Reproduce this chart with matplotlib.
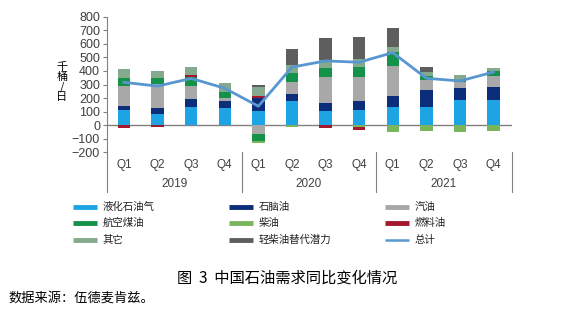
import numpy as np
import matplotlib
matplotlib.use("Agg")
import matplotlib.pyplot as plt
from matplotlib.lines import Line2D

plt.rcParams['font.family'] = ['Liberation Sans', 'Noto Sans CJK SC', 'DejaVu Sans']

# quarters and years
quarters = ['Q1', 'Q2', 'Q3', 'Q4'] * 3
years = ['2019', '2020', '2021']

# year-on-year change by product, thousand barrels per day
lpg      = [113, 83, 137, 130, 108, 179, 101, 113, 132, 132, 186, 186]
naphtha  = [29, 42, 54, 52, 91, 49, 61, 64, 84, 128, 88, 99]
gasoline = [148, 179, 99, 22, -65, 91, 191, 181, 221, 70, 47, 75]
jet      = [56, 42, 63, 41, -48, 64, 67, 69, 100, 30, 8, 36]
diesel   = [0, 0, 0, 0, -17, -15, 0, -10, -47, -42, -49, -44]
fuel_oil = [-20, -10, 15, 0, 17, 0, -20, -29, 0, 0, 0, 0]
other    = [66, 56, 59, 64, 69, 61, 61, 59, 40, 35, 42, 25]
lds      = [0, 0, 0, 0, 12, 118, 159, 162, 137, 32, 0, 0]
total    = [316, 288, 345, 272, 140, 428, 474, 464, 535, 346, 326, 392]

series = [
    ('液化石油气', lpg, '#1ea3e4'),
    ('石脑油', naphtha, '#0c2d7a'),
    ('汽油', gasoline, '#a8a8a8'),
    ('航空煤油', jet, '#14924a'),
    ('柴油', diesel, '#7ab55c'),
    ('燃料油', fuel_oil, '#a3172f'),
    ('其它', other, '#84a98c'),
    ('轻柴油替代潜力', lds, '#5e5e5e'),
]
line_color = '#5896d0'

fig = plt.figure(figsize=(5.74, 3.24), dpi=100)
ax = fig.add_axes([107 / 574, 1 - 152.3 / 324, (512 - 107) / 574, (152.3 - 16.7) / 324])

x = np.arange(len(total))
pos_bottom = np.zeros(len(x))
neg_bottom = np.zeros(len(x))
for name, vals, color in series:
    v = np.array(vals, dtype=float)
    pos = np.where(v > 0, v, 0)
    neg = np.where(v < 0, v, 0)
    ax.bar(x, pos, 0.37, bottom=pos_bottom, color=color, zorder=2)
    ax.bar(x, neg, 0.37, bottom=neg_bottom, color=color, zorder=2)
    pos_bottom += pos
    neg_bottom += neg

ax.plot(x, total, color=line_color, lw=2.0, zorder=3)
ax.axhline(0, color='#808080', lw=1.0, zorder=1)

ax.set_xlim(-0.506, 11.55)
ax.set_ylim(-200, 800)
ax.set_yticks(range(-200, 801, 100))
ax.tick_params(axis='y', labelsize=9, labelcolor='#404040', color='#808080',
               length=3, width=0.8, pad=2)
ax.set_xticks([])
for s in ['top', 'right', 'bottom']:
    ax.spines[s].set_visible(False)
ax.spines['left'].set_color('#808080')
ax.spines['left'].set_linewidth(0.8)

# category axis below the plot
trans = ax.get_xaxis_transform()
for i, q in enumerate(quarters):
    ax.text(i, -0.095, q, transform=trans, ha='center', va='center',
            fontsize=8.5, color='#404040')
for j, yr in enumerate(years):
    ax.text(4 * j + 1.5, -0.235, yr, transform=trans, ha='center', va='center',
            fontsize=8.5, color='#404040')
ax.add_line(Line2D([-0.506, -0.506], [0, -0.29], transform=trans, color='#808080',
                   lw=0.8, clip_on=False))
for xs in [3.5, 7.5, 11.55]:
    ax.add_line(Line2D([xs, xs], [0, -0.29], transform=trans, color='#808080',
                       lw=0.8, clip_on=False))

fig.text(62 / 574, 1 - 82 / 324, '千\n桶\n/\n日', ha='center', va='center',
         fontsize=8, linespacing=0.95, family=['Noto Sans CJK SC', 'DejaVu Sans'])

# legend, filled row by row
leg_items = [(n, c, 'bar') for n, _, c in series] + [('总计', line_color, 'line')]
col_x = [73, 229, 385]
row_y = [207, 223, 240]
for k, (name, color, kind) in enumerate(leg_items):
    r, c = divmod(k, 3)
    x0 = col_x[c] / 574
    y0 = 1 - row_y[r] / 324
    lw = 1.8 if kind == 'line' else 3.5
    fig.add_artist(Line2D([x0, x0 + 24 / 574], [y0, y0], color=color, lw=lw,
                          solid_capstyle='butt'))
    fig.text(x0 + 30 / 574, y0, name, ha='left', va='center', fontsize=7.5,
             family=['Noto Sans CJK SC', 'DejaVu Sans'], color='#202020')

fig.text(287 / 574, 1 - 278 / 324, '图  3  中国石油需求同比变化情况', ha='center',
         va='center', fontsize=11, family=['Noto Sans CJK SC', 'DejaVu Sans'])
fig.text(8 / 574, 1 - 298 / 324, '数据来源：伍德麦肯兹。', ha='left', va='center',
         fontsize=9.5, family=['Noto Sans CJK SC', 'DejaVu Sans'])

fig.savefig('out.png', dpi=100)
